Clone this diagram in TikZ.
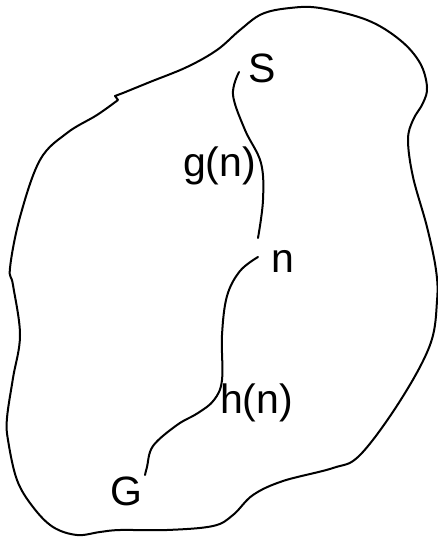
\documentclass[tikz,border=0pt]{standalone}
\usepackage{fontspec}
\setmainfont{Liberation Sans}
\usepackage{tikz}
\usetikzlibrary{calc,positioning}
\tikzset{
    region/.style={line width=2pt, line join=round},
    path_line/.style={line width=2pt, line cap=round},
    lbl/.style={inner sep=0pt, outer sep=0pt, anchor=base west, font=\fontsize{41}{46}\selectfont},
}
\begin{document}
\begin{tikzpicture}[x=1pt, y=-1pt]
\useasboundingbox (0,0) rectangle (438,537);
% --- Search space (outer blob) ---
                \draw[region] plot[smooth, tension=0.6] coordinates {(123,93) (150,82) (187,67) (217,50) (240,30) (262,14) (290,8) (320,8) (367,20) (400,40) (420,63) (427,87) (423,103) (413,120) (408,140) (413,177) (427,227) (436,270) (437,301) (430,345) (400,401) (360,455) (333,468) (283,481) (253,495) (233,515) (213,526) (167,530) (120,530) (100,532) (77,535) (53,527) (33,507) (17,480) (8,440) (7,418) (13,378) (20,335) (13,285) (10,268) (20,217) (40,160) (67,133) (97,115) (118,100)} -- (115,96) -- cycle;
% --- Nodes ---
                \node[lbl] (S) at (248,83) {S};
                \node[lbl] (n) at (271,272) {n};
                \node[lbl] (G) at (110,505) {G};
% Cost labels
                \node[lbl] (gn) at (183,177) {g(n)};
                \node[lbl] (hn) at (220,413) {h(n)};
% --- Path ends ---
                \coordinate (sEnd) at ($(S.base west)+(-9,-11)$);
                \coordinate (nIn) at ($(n.base west)+(-13,-34)$);
                \coordinate (nOut) at ($(n.base west)+(-13,-15)$);
                \coordinate (gEnd) at ($(G.base west)+(35,-30)$);
% --- Paths S -> n -> G ---
                \draw[path_line] plot[smooth, tension=0.6] coordinates {(sEnd) (233,95) (245,130) (261,163) (263,200) (nIn)};
                \draw[path_line] plot[smooth, tension=0.6] coordinates {(nOut) (240,271) (227,296) (222,335) (222,380) (214,400) (198,413) (177,425) (153,446) (147,467) (gEnd)};
\end{tikzpicture}
\end{document}
